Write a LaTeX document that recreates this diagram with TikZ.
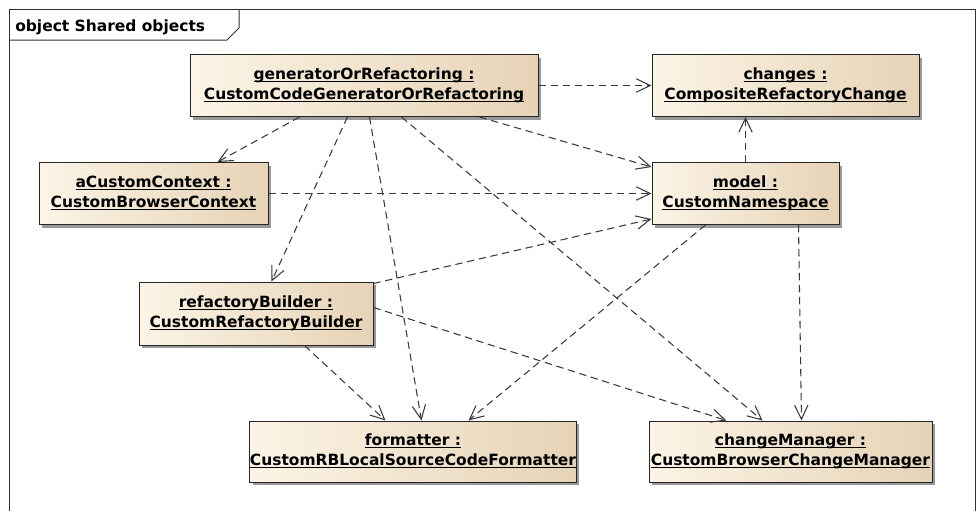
\documentclass[tikz,border=0pt]{standalone}
\usepackage{fontspec}
\setmainfont{DejaVu Sans}
\usetikzlibrary{arrows.meta,shadows,calc}
\definecolor{objL}{HTML}{FCF4E6}
\definecolor{objR}{HTML}{E6D3B6}
\definecolor{lineC}{HTML}{3A3A3A}
\newcommand\objfont{\bfseries\fontsize{11.6}{15.2}\selectfont}
% underline drawn at a fixed distance below the baseline
\newcommand\ulname[1]{\underline{\smash{#1}}\vphantom{Ag}}
\begin{document}
\begin{tikzpicture}[x=0.75pt,y=-0.75pt,
  objbox/.style={draw=black!85, line width=0.75pt, left color=objL, right color=objR,
    drop shadow={shadow xshift=2.5pt, shadow yshift=-2.5pt, fill=black!40, opacity=1},
    align=center, inner sep=0pt, font=\objfont},
  dep/.style={draw=lineC, line width=0.8pt, dash pattern=on 5.5pt off 3.5pt,
    -{Straight Barb[length=10.5pt,width=10pt]}}]
\useasboundingbox (0,0) rectangle (976,511);

% diagram frame and its name tab
\draw[line width=0.75pt, black!80] (9,511) -- (9,9) -- (975,9) -- (975,511);
\draw[line width=0.75pt, black!80] (9,40) -- (227,40) -- (239,28) -- (239,9);
\node[anchor=base west, inner sep=0pt, font=\objfont] (title) at (15,31) {object Shared objects};

% objects
\node[objbox, minimum width=261pt, minimum height=46.5pt] (gen) at (364,85.5)
  {\ulname{generatorOrRefactoring :}\\\ulname{CustomCodeGeneratorOrRefactoring}};
\node[objbox, minimum width=200.25pt, minimum height=46.5pt] (changes) at (785.5,85.5)
  {\ulname{changes :}\\\ulname{CompositeRefactoryChange}};
\node[objbox, minimum width=140.25pt, minimum height=46.5pt] (model) at (745.5,193.5)
  {\ulname{model :}\\\ulname{CustomNamespace}};
\node[objbox, minimum width=171.75pt, minimum height=46.5pt] (ctx) at (153.5,193.5)
  {\ulname{aCustomContext :}\\\ulname{CustomBrowserContext}};
\node[objbox, minimum width=175.5pt, minimum height=47.25pt] (builder) at (256,313.5)
  {\ulname{refactoryBuilder :}\\\ulname{CustomRefactoryBuilder}};
\node[objbox, minimum width=238.5pt, minimum height=45.75pt] (fmt) at (413,451.5)
  {\ulname{formatter :}\\\ulname{CustomRBLocalSourceCodeFormatter}};
\node[objbox, minimum width=212.25pt, minimum height=45.75pt] (mgr) at (790.5,451.5)
  {\ulname{changeManager :}\\\ulname{CustomBrowserChangeManager}};

% dependencies
\draw[dep] (gen.east) -- (gen.east -| changes.west);
\draw[dep] ($(gen.south west)+(110,0)$) -- ($(ctx.north west)+(179,0)$);
\draw[dep] ($(gen.south west)+(290,0)$) -- ($(model.north west)+(0,5)$);
\draw[dep] ($(gen.south west)+(158,0)$) -- ($(builder.north west)+(133,0)$);
\draw[dep] ($(gen.south west)+(180,0)$) -- ($(fmt.north west)+(172,0)$);
\draw[dep] ($(gen.south west)+(212,0)$) -- ($(mgr.north west)+(114,0)$);
\draw[dep] (ctx.east) -- (ctx.east -| model.west);
\draw[dep] (model.north) -- (model.north |- changes.south);
\draw[dep] ($(model.south west)+(54,0)$) -- ($(fmt.north west)+(219,0)$);
\draw[dep] ($(model.south west)+(147,0)$) -- ($(mgr.north west)+(153,0)$);
\draw[dep] ($(builder.north east)+(0,2)$) -- ($(model.south west)+(0,-6)$);
\draw[dep] ($(builder.south west)+(166,0)$) -- ($(fmt.north west)+(136,0)$);
\draw[dep] ($(builder.north east)+(0,26)$) -- ($(mgr.north west)+(78,0)$);
\end{tikzpicture}
\end{document}
